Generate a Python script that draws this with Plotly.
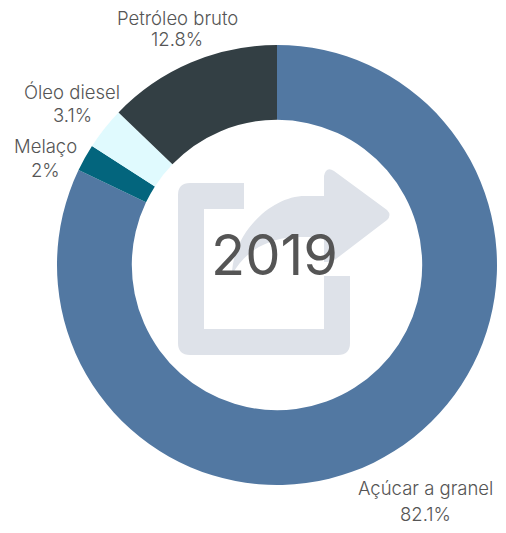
import plotly.graph_objects as go

categories = ["Açúcar a granel", "Melaço", "Óleo diesel", "Petróleo bruto"]
values = [82.1, 2, 3.1, 12.8]
colors = ["#5278A2", "#03657D", "#E0FAFE", "#333F44"]
year = "2019"
W, H = 506, 533
FONT = "Inter"
TEXT = "#555555"
ICON = "#DEE2E9"

# label line centres in pixels: (x, y name, y value)
label_pos = {"Açúcar a granel": (425, 488, 514), "Melaço": (45, 146, 170),
             "Óleo diesel": (72, 92, 115), "Petróleo bruto": (177, 18, 39)}

def px(x): return x / W
def py(y): return 1 - y / H

fig = go.Figure(go.Pie(labels=categories, values=values, hole=0.66, sort=False,
                       direction="clockwise", rotation=0,
                       marker=dict(colors=colors, line=dict(width=0)),
                       textinfo="none", hoverinfo="label+percent", showlegend=False,
                       domain=dict(x=[px(57), px(497)], y=[py(485), py(45)])))

anns = []
for c, v in zip(categories, values):
    x, y1, y2 = label_pos[c]
    for t, y in ((c, y1), (f"{v:g}%", y2)):
        anns.append(dict(text=t, x=px(x), y=py(y), xref="paper", yref="paper", showarrow=False,
                         xanchor="center", yanchor="middle",
                         font=dict(family=FONT, size=18.5, color=TEXT, weight=300)))
anns.append(dict(text=year, x=px(274), y=py(255), xref="paper", yref="paper", showarrow=False,
                 xanchor="center", yanchor="middle", font=dict(family=FONT, size=56, color=TEXT, weight=400)))

def path(cmds):
    out = []
    for c in cmds:
        out.append(c[0] + " ".join(f"{px(c[i])},{py(c[i+1])}" for i in range(1, len(c), 2)))
    return " ".join(out) + " Z"

bracket = path([("M", 244, 183), ("L", 190, 183), ("Q", 178, 183, 178, 195), ("L", 178, 343),
                ("Q", 178, 355, 190, 355), ("L", 338, 355), ("Q", 350, 355, 350, 343),
                ("L", 350, 276), ("L", 324, 276), ("L", 324, 329), ("L", 204, 329),
                ("L", 204, 209), ("L", 244, 209)])
arrow = path([("M", 324, 196), ("L", 324, 176), ("Q", 326, 166, 334, 171), ("L", 387, 210),
              ("Q", 392, 215, 387, 220), ("L", 332, 262), ("L", 324, 262), ("L", 324, 237),
              ("L", 300, 237), ("C", 270, 237, 245, 250, 232, 275), ("C", 232, 235, 270, 196, 305, 196)])
shapes = [dict(type="path", path=p, xref="paper", yref="paper", fillcolor=ICON,
               line=dict(width=0), layer="below") for p in (bracket, arrow)]

fig.update_layout(width=W, height=H, margin=dict(l=0, r=0, t=0, b=0), autosize=False,
                  paper_bgcolor="white", plot_bgcolor="rgba(0,0,0,0)",
                  annotations=anns, shapes=shapes)
fig.write_html("out.html", config={"displayModeBar": False},
               post_script="document.body.style.margin='0';document.body.style.overflow='hidden';")
